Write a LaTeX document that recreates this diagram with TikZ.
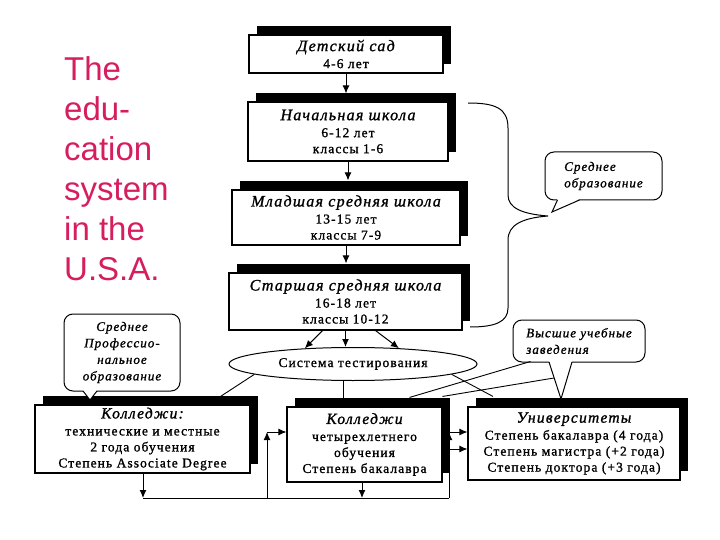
\documentclass[tikz,border=0pt]{standalone}
\usepackage{fontspec}
\setmainfont{Liberation Serif}
\newfontfamily\bx[LetterSpace=8, FakeBold=1.2]{Liberation Serif}
\newfontfamily\ttlfont{Liberation Sans}
\usetikzlibrary{shapes.geometric,shadows,arrows.meta}
\definecolor{pinkt}{RGB}{214,30,95}
\newcommand\bxtitle[1]{{\itshape\fontsize{16}{18}\selectfont #1}}
\newcommand\bxtitleb[1]{{\itshape\fontsize{15.5}{18}\selectfont #1}}
\begin{document}
\begin{tikzpicture}[x=1pt,y=-1pt,
  sbox/.style={draw=black, line width=1.1pt, fill=white, inner sep=0pt, align=center,
    font=\bx\fontsize{13.5}{16}\selectfont,
    general shadow={fill=black, shadow xshift=8pt, shadow yshift=9pt}},
  arr/.style={line width=1pt, -{Latex[length=8pt,width=7pt]}},
  ln/.style={line width=0.9pt},
  callbox/.style={draw=black, line width=1pt, rounded corners=9pt, fill=white, inner sep=0pt,
    font=\bx\itshape\fontsize{13}{16.5}\selectfont},
  tailfill/.style={fill=white},
  tailline/.style={line width=1pt, line join=miter}]
\useasboundingbox (0,0) rectangle (720,540);

% title
\node[font=\ttlfont\fontsize{33}{40}\selectfont, text=pinkt, align=left, anchor=north west, inner sep=0pt]
  (title) at (64,56) {The\\edu-\\cation\\system\\in the\\U.S.A.};

% brace
\draw[line width=1pt] (468,103) .. controls (495,103) and (508,108) .. (508,128) -- (508,195)
  .. controls (508,208) and (522,214) .. (548,216)
  .. controls (522,218) and (508,225) .. (508,240) -- (508,308)
  .. controls (508,322) and (495,327) .. (470,327);

% column boxes
\node[sbox, minimum width=194pt, minimum height=38pt] (b1) at (346,54)
  {\bxtitle{Детский сад}\\[1pt]4-6 лет};
\node[sbox, minimum width=200pt, minimum height=59pt] (b2) at (348,131.5)
  {\bxtitle{Начальная школа}\\[1pt]6-12 лет\\классы 1-6};
\node[sbox, minimum width=228pt, minimum height=55pt] (b3) at (346,217.5)
  {\bxtitle{Младшая средняя школа}\\[1pt]13-15 лет\\классы 7-9};
\node[sbox, minimum width=233pt, minimum height=57pt] (b4) at (345.5,301.5)
  {\bxtitle{Старшая средняя школа}\\[1pt]16-18 лет\\классы 10-12};

\draw[arr] (b1.south) -- ([yshift=8pt]b2.north -| b1.south);
\draw[arr] (b2.south) -- ([yshift=9pt]b3.north -| b2.south);
\draw[arr] (b3.south) -- ([yshift=9pt]b4.north -| b3.south);

% testing ellipse
\node[draw, ellipse, line width=1pt, fill=white, inner sep=0pt, minimum width=248pt, minimum height=33pt,
  font=\bx\fontsize{13.5}{16}\selectfont] (ell) at (353,364) {Система тестирования};

\draw[arr] ([xshift=-23pt]b4.south) -- (ell.162);
\draw[arr] (b4.south) -- (b4.south |- ell.north);
\draw[arr] ([xshift=30pt]b4.south) -- (ell.19);

% bottom boxes
\node[sbox, minimum width=215pt, minimum height=68pt] (lb) at (142.5,439)
  {\bxtitleb{Колледжи:}\\[1pt]технические и местные\\2 года обучения\\Степень Associate Degree};
\node[sbox, minimum width=155pt, minimum height=75pt] (fy) at (364.5,444.5)
  {\bxtitleb{Колледжи}\\[1pt]четырехлетнего\\обучения\\Степень бакалавра};
\node[sbox, minimum width=212pt, minimum height=73pt] (uni) at (574,443.5)
  {\bxtitleb{Университеты}\\[1pt]Степень бакалавра (4 года)\\Степень магистра (+2 года)\\Степень доктора (+3 года)};

% lines from ellipse
\draw[ln] (ell.186) -- ([xshift=78pt,yshift=8pt]lb.north);
\draw[ln] ([xshift=-10pt]ell.south) -- ++(0,17.5);
\draw[ln] (ell.354) -- ([xshift=-81pt,yshift=10pt]uni.north);

% callouts
\node[callbox, minimum width=117pt, minimum height=48pt, align=left] (c1) at (603.5,176)
  {Среднее\\образование};
\coordinate (t1) at (552,212);
\fill[tailfill] ([xshift=-46pt,yshift=1.5pt]c1.south) -- (t1) -- ([xshift=-24pt,yshift=1.5pt]c1.south) -- cycle;
\draw[tailline] ([xshift=-46pt,yshift=0.5pt]c1.south) -- (t1) -- ([xshift=-24pt,yshift=0.5pt]c1.south);

\node[callbox, minimum width=116pt, minimum height=77pt, align=center] (c2) at (122,352.5)
  {Среднее\\Профессио-\\нальное\\образование};
\coordinate (t2) at (90,400);
\fill[tailfill] ([xshift=-39pt,yshift=1.5pt]c2.south) -- (t2) -- ([xshift=-25pt,yshift=1.5pt]c2.south) -- cycle;
\draw[tailline] ([xshift=-39pt,yshift=0.5pt]c2.south) -- (t2) -- ([xshift=-25pt,yshift=0.5pt]c2.south);

\node[callbox, minimum width=132pt, minimum height=42pt, align=left] (c3) at (579,341)
  {Высшие учебные\\заведения};
\coordinate (t3) at (561,399);
\fill[tailfill] ([xshift=-30pt,yshift=1.5pt]c3.south) -- (t3) -- ([xshift=-7pt,yshift=1.5pt]c3.south) -- cycle;
\draw[tailline] ([xshift=-30pt,yshift=0.5pt]c3.south) -- (t3) -- ([xshift=-7pt,yshift=0.5pt]c3.south);

% lines from higher-education callout to four-year colleges
\coordinate (c3b) at (554,378);
\draw[ln] ([xshift=18pt,yshift=1pt]c3.south west) -- ([xshift=45pt,yshift=9pt]fy.north);
\draw[ln] (c3b) -- ([xshift=78pt,yshift=10pt]fy.north);

% bottom routing
\coordinate (bl) at (143,498);
\coordinate (br) at (449,498);
\coordinate (vl) at (267,498);
\coordinate (vlt) at (267,432);
\coordinate (vrt) at (449,432);
\coordinate (vrt2) at (449,449);
\draw[arr] (lb.south -| bl) -- (bl);
\draw[ln] (bl) -- (br);
\draw[arr] (vl) -- (vlt);
\draw[arr] (vlt) -- (vlt -| fy.west);
\draw[arr] (fy.south -| 362,0) -- (bl -| 362,0);
\draw[arr] (br) -- (vrt);
\draw[arr] (vrt) -- (vrt -| uni.west);
\draw[arr] (vrt2) -- (vrt2 -| uni.west);
\end{tikzpicture}
\end{document}
